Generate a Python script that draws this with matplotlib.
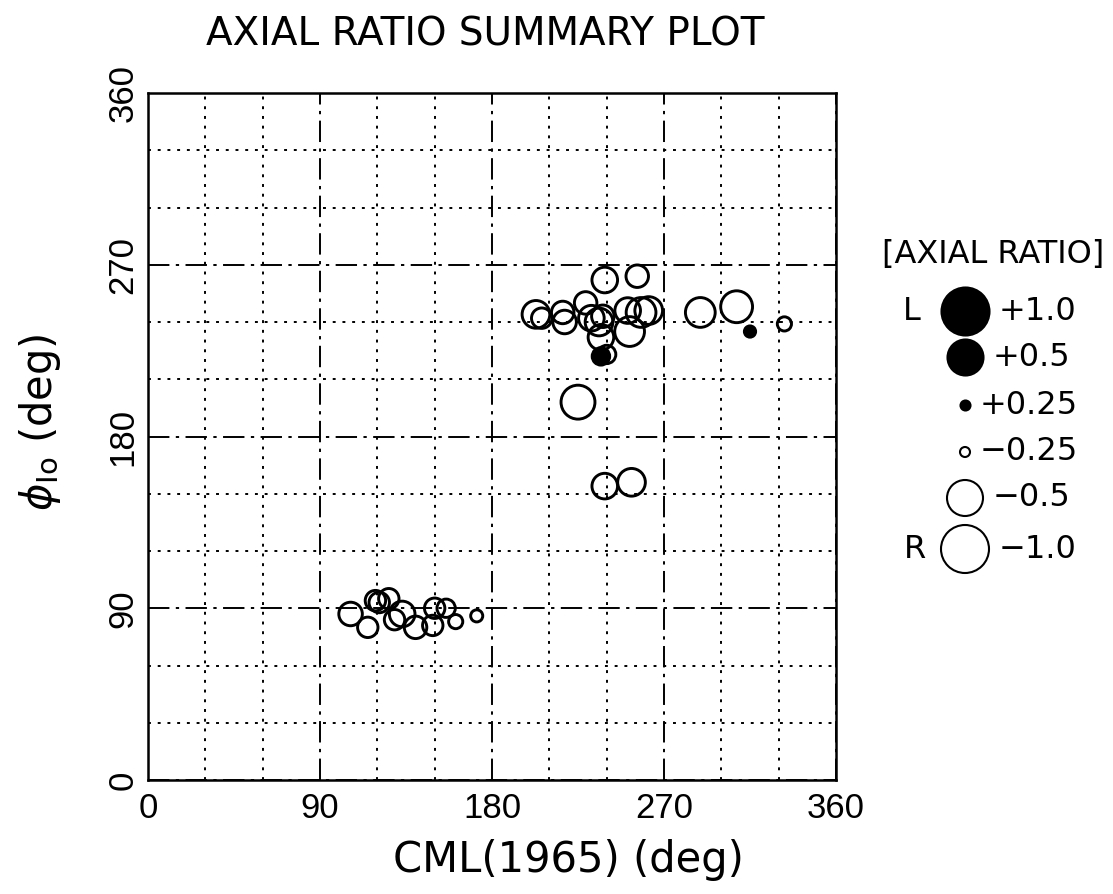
import numpy as np
import matplotlib
matplotlib.use("Agg")
import matplotlib.pyplot as plt

# data: CML(1965), phi_Io and axial ratio (+ = L, - = R)
cml = [106, 115, 119, 121, 126, 129, 133, 140, 149, 150, 156, 161, 172,
       203, 206, 217, 218, 229, 232, 236, 238, 237, 239, 256, 251, 252, 258, 262,
       237, 240, 225, 239, 253, 289, 308, 315, 333]
phi_io = [87, 80, 94, 93, 95, 84, 87, 80, 81, 90, 90, 83, 86,
          244, 242, 245, 240, 250, 242, 240, 243, 232, 262, 264, 246, 235, 245, 246,
          222, 223, 198, 154, 156, 245, 248, 235, 239]
ratio = [-0.38, -0.35, -0.35, -0.35, -0.35, -0.35, -0.40, -0.37, -0.35, -0.35, -0.33, -0.29, -0.27,
         -0.42, -0.35, -0.37, -0.38, -0.37, -0.40, -0.42, -0.37, -0.40, -0.40, -0.37, -0.40, -0.44, -0.44, -0.42,
         0.33, -0.33, -0.48, -0.40, -0.42, -0.44, -0.46, 0.27, -0.29]

legend_vals = [1.0, 0.5, 0.25, -0.25, -0.5, -1.0]
legend_labels = ["+1.0", "+0.5", "+0.25", "\u22120.25", "\u22120.5", "\u22121.0"]

plt.rcParams['font.family'] = ['DejaVu Sans']
plt.rcParams['mathtext.fontset'] = 'dejavusans'


def radius_px(r):
    # circle radius in pixels for a given axial ratio
    return np.interp(np.abs(r), [0.25, 0.5, 1.0], [5, 18, 24])


def size_pt2(r):
    return (2 * radius_px(r) * 0.72) ** 2


fig = plt.figure(figsize=(11.13, 8.94), dpi=100)
ax = fig.add_axes([148 / 1113, 114 / 894, 688 / 1113, 687 / 894])

ratio = np.array(ratio)
cml = np.array(cml)
phi_io = np.array(phi_io)
left = ratio > 0
ax.scatter(cml[left], phi_io[left], s=size_pt2(ratio[left]), c='black',
           edgecolors='black', linewidths=1.5, zorder=3)
ax.scatter(cml[~left], phi_io[~left], s=size_pt2(ratio[~left]), facecolors='none',
           edgecolors='black', linewidths=2.1, zorder=4)

ax.set_xlim(0, 360)
ax.set_ylim(0, 360)
ax.set_xticks(np.arange(0, 361, 90))
ax.set_yticks(np.arange(0, 361, 90))
ax.set_xticks(np.arange(0, 361, 30), minor=True)
ax.set_yticks(np.arange(0, 361, 30), minor=True)
ax.grid(which='major', color='black', linestyle=(0, (11, 3.3, 1.7, 3.3)), linewidth=1.4)
ax.grid(which='minor', color='black', linestyle=(0, (1.5, 3.5)), linewidth=1.4)
ax.tick_params(which='both', length=0, labelsize=25, pad=9)
ax.tick_params(axis='y', pad=6)
for lab in ax.get_xticklabels() + ax.get_yticklabels():
    lab.set_family(['Liberation Sans', 'DejaVu Sans'])
for lab in ax.get_yticklabels():
    lab.set_rotation(90)
    lab.set_va('center')
for sp in ax.spines.values():
    sp.set_linewidth(1.8)

fig.text(485 / 1113, 1 - 35 / 894, "AXIAL RATIO SUMMARY PLOT", ha='center', va='center', fontsize=28)
fig.text(568 / 1113, 1 - 860 / 894, "CML(1965) (deg)", ha='center', va='center', fontsize=30)
fig.text(40 / 1113, 1 - 422 / 894, r"$\phi_{\mathrm{Io}}$ (deg)", ha='center', va='center',
         rotation=90, fontsize=30)

# legend drawn in pixel coordinates
lg = fig.add_axes([0, 0, 1, 1])
lg.set_xlim(0, 1113)
lg.set_ylim(894, 0)
lg.axis('off')
lg.text(993, 254, "[AXIAL RATIO]", ha='center', va='center', fontsize=23)
leg_y = [311, 357, 405, 452, 498, 549]
cx = 965
for v, lab, yy in zip(legend_vals, legend_labels, leg_y):
    if v > 0:
        lg.scatter([cx], [yy], s=size_pt2(v), c='black', edgecolors='black', linewidths=1.5)
    else:
        lg.scatter([cx], [yy], s=size_pt2(v), facecolors='none', edgecolors='black', linewidths=1.5)
    lg.text(cx + radius_px(v) + 10, yy, lab, ha='left', va='center', fontsize=23)
lg.text(912, 311, "L", ha='center', va='center', fontsize=23)
lg.text(915, 549, "R", ha='center', va='center', fontsize=23)

fig.savefig("out.png", dpi=100, facecolor='white')
